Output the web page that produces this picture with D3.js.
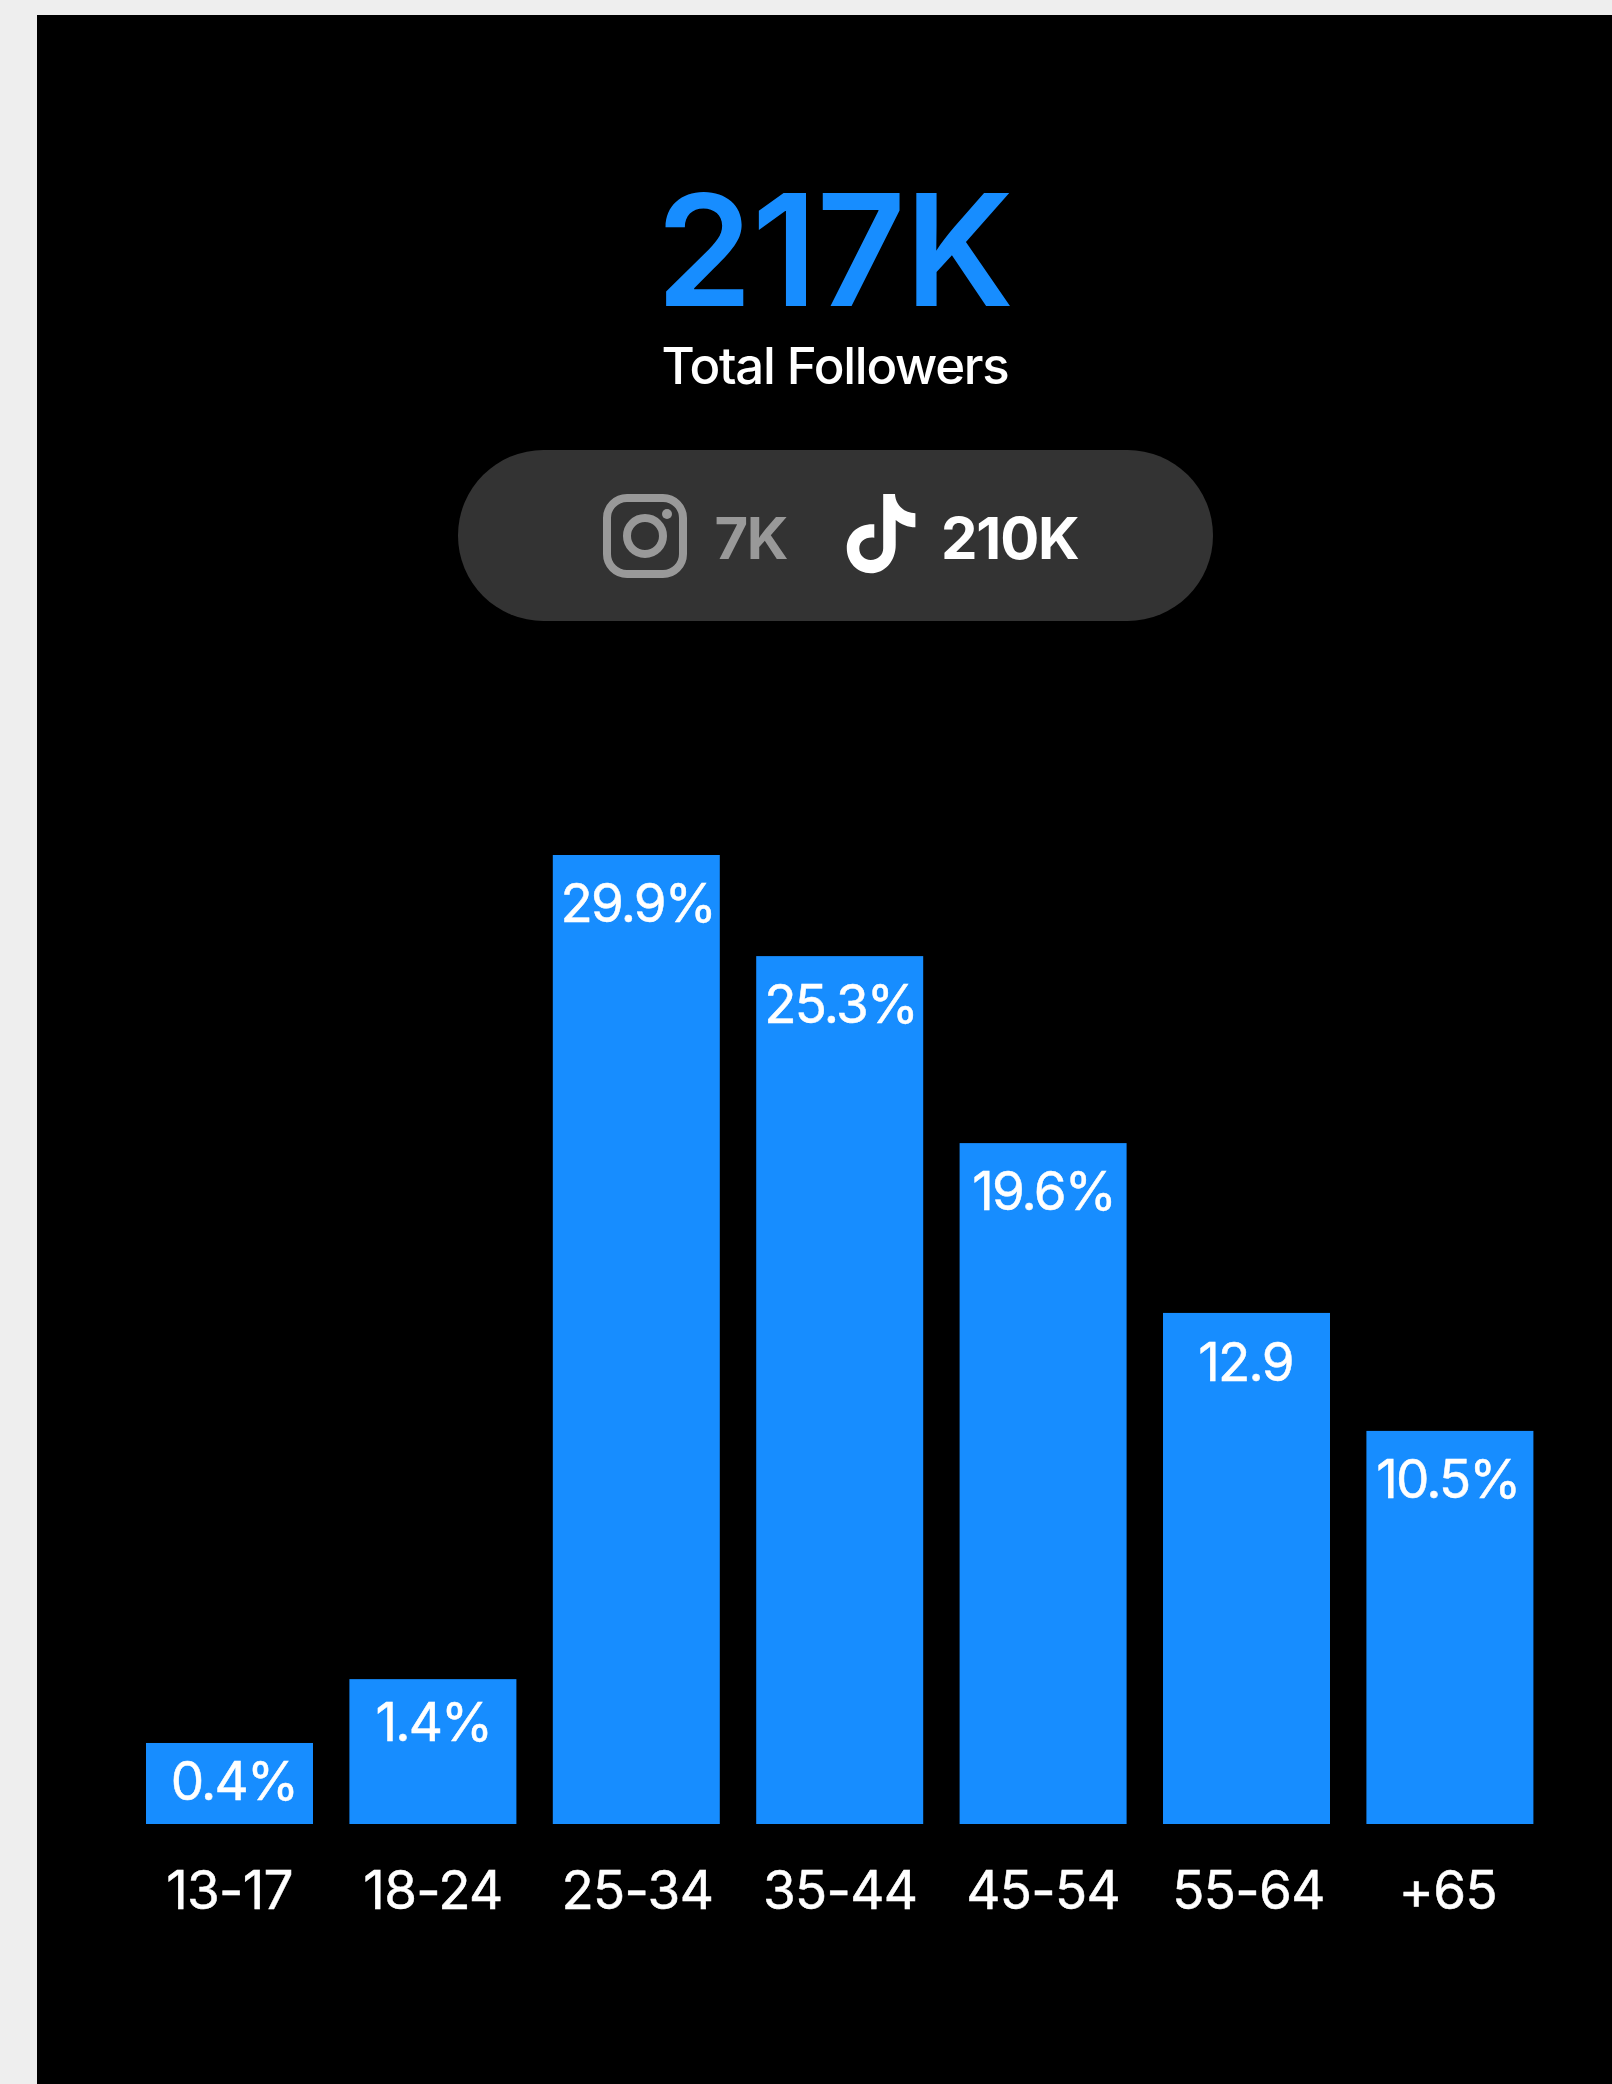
<!DOCTYPE html>
<html>
<head>
<meta charset="utf-8">
<script src="https://cdn.jsdelivr.net/npm/d3@7"></script>
<style>
  html, body { margin: 0; padding: 0; background: #eeeeee; }
  svg { display: block; }
  text { font-family: Inter, "Noto Sans", sans-serif; }
</style>
</head>
<body>
<div id="chart"></div>
<script>
// data
const ageGroups = ["13-17", "18-24", "25-34", "35-44", "45-54", "55-64", "+65"];
// printed labels, these do not line up with the drawn heights in the original
const barLabels = ["0.4%", "1.4%", "29.9%", "25.3%", "19.6%", "12.9", "10.5%"];
// bar heights as drawn, in the units of the tallest bar (29.9)
const barHeights = [2.5, 4.47, 29.9, 26.78, 21.01, 15.77, 12.13];

const totalFollowers = "217K";
const totalCaption = "Total Followers";
const instagramFollowers = "7K";
const tiktokFollowers = "210K";

// small hand placed nudges, the original labels are not quite centred
const labelNudgeX = [4.5, 0.5, 1.5, 1, 0.5, -1, -2];
const labelOffsetY = [57, 62, 67, 67, 67, 68, 67];
const tickNudgeX = [0, 0, 1, 0.5, 0, 2, -2];

const svgWidth = 1612;
const svgHeight = 2084;
const blue = "#178dff";

const svg = d3.select("#chart")
  .append("svg")
  .attr("width", svgWidth)
  .attr("height", svgHeight);

// black panel
svg.append("rect")
  .attr("x", 37)
  .attr("y", 15)
  .attr("width", svgWidth - 37)
  .attr("height", svgHeight - 15)
  .attr("fill", "#000");

// header
svg.append("text")
  .attr("x", 834.5)
  .attr("y", 306)
  .attr("text-anchor", "middle")
  .attr("font-size", 155)
  .attr("font-weight", 600)
  .attr("letter-spacing", -0.8)
  .attr("fill", blue)
  .text(totalFollowers);

svg.append("text")
  .attr("x", 835)
  .attr("y", 384)
  .attr("text-anchor", "middle")
  .attr("font-size", 51)
  .attr("font-weight", 500)
  .attr("letter-spacing", -1.3)
  .attr("fill", "#fff")
  .text(totalCaption);

// pill
svg.append("rect")
  .attr("x", 458)
  .attr("y", 450)
  .attr("width", 755)
  .attr("height", 171)
  .attr("rx", 85.5)
  .attr("fill", "#333");

// instagram icon
const insta = svg.append("g")
  .attr("fill", "none")
  .attr("stroke", "#999")
  .attr("stroke-width", 8);
insta.append("rect")
  .attr("x", 607).attr("y", 498)
  .attr("width", 76).attr("height", 76)
  .attr("rx", 20);
insta.append("circle")
  .attr("cx", 645).attr("cy", 536).attr("r", 18);
svg.append("circle")
  .attr("cx", 667).attr("cy", 514).attr("r", 5)
  .attr("fill", "#999");

svg.append("text")
  .attr("x", 714.5)
  .attr("y", 559)
  .attr("font-size", 58)
  .attr("font-weight", 700)
  .attr("letter-spacing", -1.5)
  .attr("fill", "#999")
  .text(instagramFollowers);

// tiktok icon
svg.append("path")
  .attr("d", "M883.2,494 L895,494 C895.5,505 904,513 915.4,513.3 L915.4,527.3 C908,527.3 901,524.5 895.7,520 L895.7,545 C895.7,561 885,573.3 870.7,573.3 C857,573.3 846.8,562 846.8,548.3 C846.8,534 858,523.5 874.3,524.3 L874.3,537.7 C866,536.5 859.3,541 859.3,548.3 C859.3,555 864,560 870.7,560 C878,560 883.2,555 883.2,548.3 Z")
  .attr("fill", "#fff");

svg.append("text")
  .attr("x", 941)
  .attr("y", 559)
  .attr("font-size", 58)
  .attr("font-weight", 700)
  .attr("letter-spacing", -1.2)
  .attr("fill", "#fff")
  .text(tiktokFollowers);

// bars
const baseline = 1824;
const xScale = d3.scaleBand()
  .domain(ageGroups)
  .range([146, 1533.4])
  .paddingInner(0.179)
  .paddingOuter(0);

const yScale = d3.scaleLinear()
  .domain([0, 29.9])
  .range([baseline, 855]);

const barData = ageGroups.map((g, i) => ({
  group: g,
  label: barLabels[i],
  height: barHeights[i],
  nudge: labelNudgeX[i],
  offset: labelOffsetY[i]
}));

const chartGroup = svg.append("g");

chartGroup.selectAll("rect")
  .data(barData)
  .enter()
  .append("rect")
  .attr("x", d => xScale(d.group))
  .attr("y", d => yScale(d.height))
  .attr("width", xScale.bandwidth())
  .attr("height", d => baseline - yScale(d.height))
  .attr("fill", blue);

chartGroup.selectAll(".bar-label")
  .data(barData)
  .enter()
  .append("text")
  .attr("class", "bar-label")
  .attr("x", d => xScale(d.group) + xScale.bandwidth() / 2 + d.nudge)
  .attr("y", d => yScale(d.height) + d.offset)
  .attr("text-anchor", "middle")
  .attr("font-size", 53)
  .attr("letter-spacing", -1.8)
  .attr("stroke", "#fff")
  .attr("stroke-width", 0.5)
  .attr("fill", "#fff")
  .text(d => d.label);

// x axis, labels only
const xAxis = svg.append("g")
  .attr("transform", `translate(0,${baseline})`)
  .call(d3.axisBottom(xScale).tickSize(0).tickPadding(0));
xAxis.select(".domain").remove();
xAxis.selectAll("text")
  .attr("x", (d, i) => tickNudgeX[i])
  .attr("y", 85)
  .attr("dy", 0)
  .attr("font-size", 53)
  .attr("letter-spacing", -0.7)
  .attr("font-family", "Inter")
  .attr("stroke", "#fff")
  .attr("stroke-width", 0.5)
  .attr("fill", "#fff");
</script>
</body>
</html>
